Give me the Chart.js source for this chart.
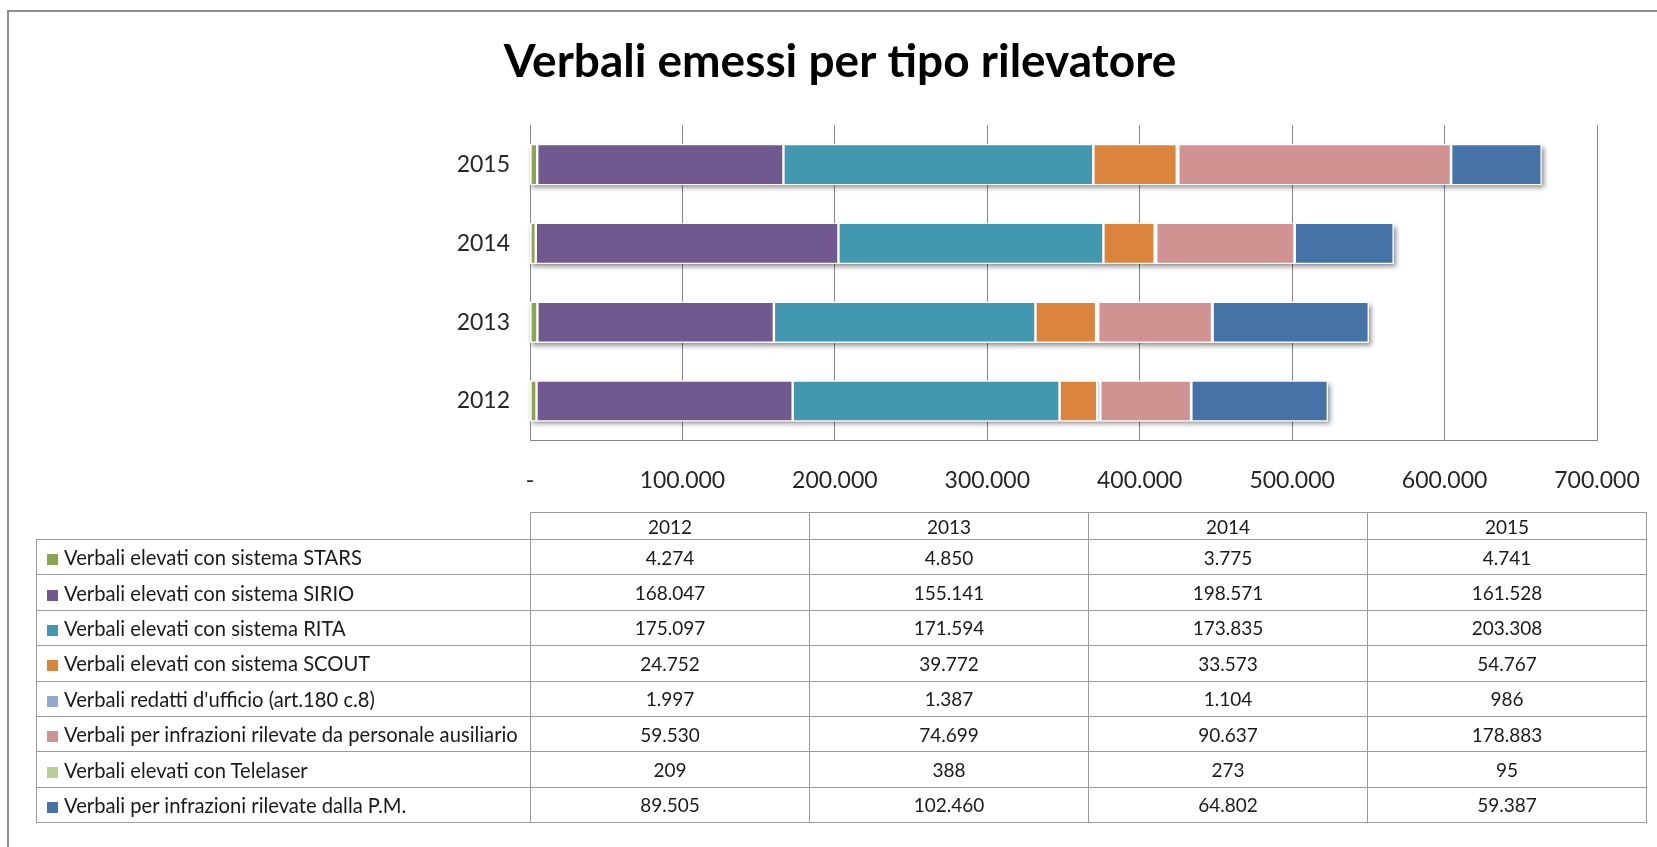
<!DOCTYPE html>
<html>
<head>
<meta charset="utf-8">
<script src="https://cdn.jsdelivr.net/npm/chart.js@4.4.0/dist/chart.umd.min.js"></script>
<style>
  html, body { margin: 0; padding: 0; background: #fff; overflow: hidden; }
  body { width: 1657px; height: 847px; position: relative; font-family: Lato, sans-serif; }
  #frame { position: absolute; left: 7px; top: 10px; width: 1700px; height: 900px;
           border-left: 2px solid #8c8c8c; border-top: 2px solid #8c8c8c; }
  #grafico { position: absolute; left: 0; top: 0; }
  #tabella { position: absolute; left: 36px; top: 512px; border-collapse: collapse;
             font-size: 19px; color: #1a1a1a; table-layout: fixed; }
  #tabella td { border: 1px solid #9a9a9a; padding: 0; height: 34.4px; text-align: center; }
  #tabella tr.head td { height: 26px; }
  #tabella tr.head td.vuota { border-top: none; border-left: none; }
  #tabella td.nome { text-align: left; padding-left: 10px; white-space: nowrap; font-size: 20.2px; }
  .quad { display: inline-block; width: 11px; height: 11px; margin-right: 6px; vertical-align: 0px; }
</style>
</head>
<body>
<div id="frame"></div>
<canvas id="grafico" width="1657" height="533"></canvas>
<table id="tabella"></table>
<script>
// dati
const anni = ['2012', '2013', '2014', '2015'];
const stars = [4274, 4850, 3775, 4741];
const sirio = [168047, 155141, 198571, 161528];
const rita = [175097, 171594, 173835, 203308];
const scout = [24752, 39772, 33573, 54767];
const ufficio = [1997, 1387, 1104, 986];
const ausiliario = [59530, 74699, 90637, 178883];
const telelaser = [209, 388, 273, 95];
const pm = [89505, 102460, 64802, 59387];
const xTicks = [0, 100000, 200000, 300000, 400000, 500000, 600000, 700000];

const serie = [
    { nome: 'Verbali elevati con sistema STARS', valori: stars, colore: '#89A54E' },
    { nome: 'Verbali elevati con sistema SIRIO', valori: sirio, colore: '#71588F' },
    { nome: 'Verbali elevati con sistema RITA', valori: rita, colore: '#4198AF' },
    { nome: 'Verbali elevati con sistema SCOUT', valori: scout, colore: '#DB843D' },
    { nome: "Verbali redatti d'ufficio (art.180 c.8)", valori: ufficio, colore: '#93A9CF' },
    { nome: 'Verbali per infrazioni rilevate da personale ausiliario', valori: ausiliario, colore: '#D19392' },
    { nome: 'Verbali elevati con Telelaser', valori: telelaser, colore: '#B9CD96' },
    { nome: 'Verbali per infrazioni rilevate dalla P.M.', valori: pm, colore: '#4572A7' }
];

function formatta(n) {
    if (n === 0) return '-';
    return String(n).replace(/\B(?=(\d{3})+(?!\d))/g, '.');
}

// ombra sotto ogni barra intera
const ombraBarre = {
    id: 'ombraBarre',
    beforeDatasetsDraw(chart) {
        const ctx = chart.ctx;
        const x = chart.scales.x;
        const meta = chart.getDatasetMeta(0);
        meta.data.forEach((el, i) => {
            let totale = 0;
            chart.data.datasets.forEach(ds => { totale += ds.data[i]; });
            const p = el.getProps(['y', 'height'], true);
            const sx = x.getPixelForValue(0);
            const dx = x.getPixelForValue(totale);
            ctx.save();
            ctx.shadowColor = 'rgba(0,0,0,0.45)';
            ctx.shadowBlur = 5;
            ctx.shadowOffsetX = 2;
            ctx.shadowOffsetY = 3;
            ctx.fillStyle = '#fff';
            ctx.fillRect(sx, p.y - p.height / 2, dx - sx, p.height);
            ctx.restore();
        });
    }
};

const ctx = document.getElementById('grafico').getContext('2d');
new Chart(ctx, {
    type: 'bar',
    data: {
        labels: anni,
        datasets: serie.map(s => ({
            label: s.nome,
            data: s.valori,
            backgroundColor: s.colore,
            borderColor: '#ffffff',
            borderWidth: 1.2,
            borderSkipped: false,
            categoryPercentage: 1,
            barPercentage: 0.52
        }))
    },
    options: {
        indexAxis: 'y',
        responsive: false,
        animation: false,
        layout: { padding: { left: 83, right: 60, top: 0, bottom: 13 } },
        plugins: {
            legend: { display: false },
            tooltip: { enabled: false },
            title: {
                display: true,
                text: 'Verbali emessi per tipo rilevatore',
                color: '#000',
                font: { family: 'Lato', size: 46, weight: 'bold', lineHeight: 1.2 },
                padding: { top: 35, bottom: 35 }
            }
        },
        scales: {
            x: {
                stacked: true,
                min: 0,
                max: 700000,
                afterBuildTicks: scale => { scale.ticks = xTicks.map(v => ({ value: v })); },
                afterFit: scale => { scale.paddingRight = 0; scale.paddingLeft = 0; },
                ticks: {
                    callback: v => formatta(v),
                    color: '#262626',
                    font: { family: 'Lato', size: 23, lineHeight: 1.2 },
                    padding: 26,
                    maxRotation: 0
                },
                grid: { color: '#868686', lineWidth: 1, drawTicks: false },
                border: { color: '#868686', width: 1 }
            },
            y: {
                stacked: true,
                reverse: true,
                afterFit: scale => { scale.width = 447; },
                ticks: {
                    color: '#262626',
                    font: { family: 'Lato', size: 23 },
                    padding: 20
                },
                grid: { display: false, drawTicks: false },
                border: { color: '#868686', width: 1 }
            }
        }
    },
    plugins: [ombraBarre]
});

// tabella dati sotto il grafico
const tab = document.getElementById('tabella');
let html = '<colgroup><col style="width:494px">';
anni.forEach(() => { html += '<col style="width:279px">'; });
html += '</colgroup><tr class="head"><td class="vuota"></td>';
anni.forEach(a => { html += '<td>' + a + '</td>'; });
html += '</tr>';
serie.forEach(s => {
    html += '<tr><td class="nome"><span class="quad" style="background:' + s.colore + '"></span>' + s.nome + '</td>';
    s.valori.forEach(v => { html += '<td>' + formatta(v) + '</td>'; });
    html += '</tr>';
});
tab.innerHTML = html;
</script>
</body>
</html>
